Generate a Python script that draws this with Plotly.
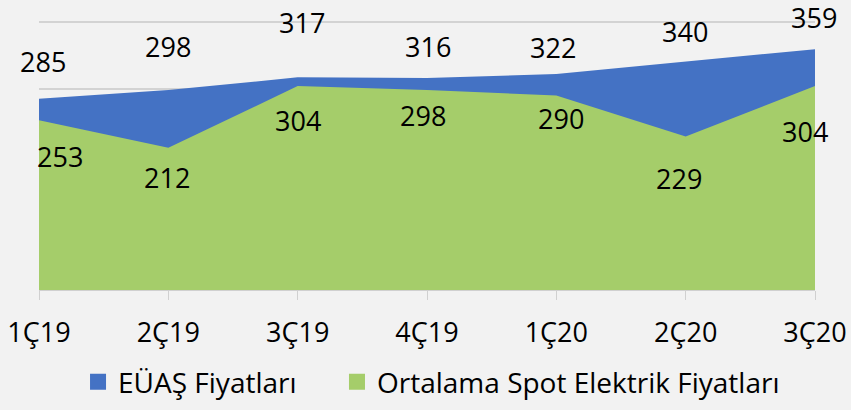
import plotly.graph_objects as go

categories = ["1Ç19", "2Ç19", "3Ç19", "4Ç19", "1Ç20", "2Ç20", "3Ç20"]
euas_values = [285, 298, 317, 316, 322, 340, 359]
spot_values = [253, 212, 304, 298, 290, 229, 304]
series_names = ["EÜAŞ Fiyatları", "Ortalama Spot Elektrik Fiyatları"]

BLUE = "#4472C4"
GREEN = "#A5CD6A"
BG = "#F2F2F2"
FONT = "Open Sans"
FS = 27

# label pixel offsets (styling, mimic the reference's label placement)
euas_dy = [-37, -44, -55, -32, -27, -30, -32]
euas_dx = [4, 0, 4, 1, -3, -1, -1]
spot_dy = [36, 30, 34, 25, 23, 42, 45]
spot_dx = [21, -1, 0, -4, 5, -7, -10]

fig = go.Figure()
fig.add_trace(go.Scatter(x=categories, y=euas_values, mode="lines", fill="tozeroy",
                         line=dict(width=0, color=BLUE), fillcolor=BLUE,
                         showlegend=False, hoverinfo="skip"))
fig.add_trace(go.Scatter(x=categories, y=spot_values, mode="lines", fill="tozeroy",
                         line=dict(width=0, color=GREEN), fillcolor=GREEN,
                         showlegend=False, hoverinfo="skip"))
# legend entries (one legend each, so their spacing can match the reference)
for name, col, lg in zip(series_names, [BLUE, GREEN], ["legend", "legend2"]):
    fig.add_trace(go.Scatter(x=[None], y=[None], mode="markers", name=name,
                             legend=lg, hoverinfo="skip",
                             marker=dict(symbol="square", size=18, color=col)))

for vals, dys, dxs in [(euas_values, euas_dy, euas_dx), (spot_values, spot_dy, spot_dx)]:
    for c, v, dy, dx in zip(categories, vals, dys, dxs):
        fig.add_annotation(x=c, y=v, text=str(v), showarrow=False,
                           yshift=-dy, xshift=dx,
                           font=dict(family=FONT, size=FS, color="black"))

legend_common = dict(orientation="h", xanchor="left", y=-0.34, yanchor="middle",
                     font=dict(family=FONT, size=28), bgcolor="rgba(0,0,0,0)",
                     itemwidth=30)

fig.update_layout(
    width=851, height=410,
    margin=dict(l=39, r=36, t=19, b=120, autoexpand=False),
    paper_bgcolor=BG, plot_bgcolor=BG,
    font=dict(family=FONT, size=FS, color="black"),
    xaxis=dict(range=[0, 6], showgrid=False, ticks="outside", ticklen=9,
               tickcolor="#D0D0D0", showline=True, linecolor="#D0D0D0",
               tickfont=dict(family=FONT, size=FS), ticklabelstandoff=10,
               zeroline=False, type="category", automargin=False),
    yaxis=dict(range=[0, 404], dtick=100, showticklabels=False, showgrid=True,
               gridcolor="#D3D3D3", gridwidth=1.5, zeroline=False, automargin=False),
    legend=dict(x=0.0503, **legend_common),
    legend2=dict(x=0.384, **legend_common),
    hovermode=False,
)

fig.write_html("out.html", config={"displayModeBar": False},
               post_script="document.body.style.margin='0';document.body.style.background='%s';" % BG)
